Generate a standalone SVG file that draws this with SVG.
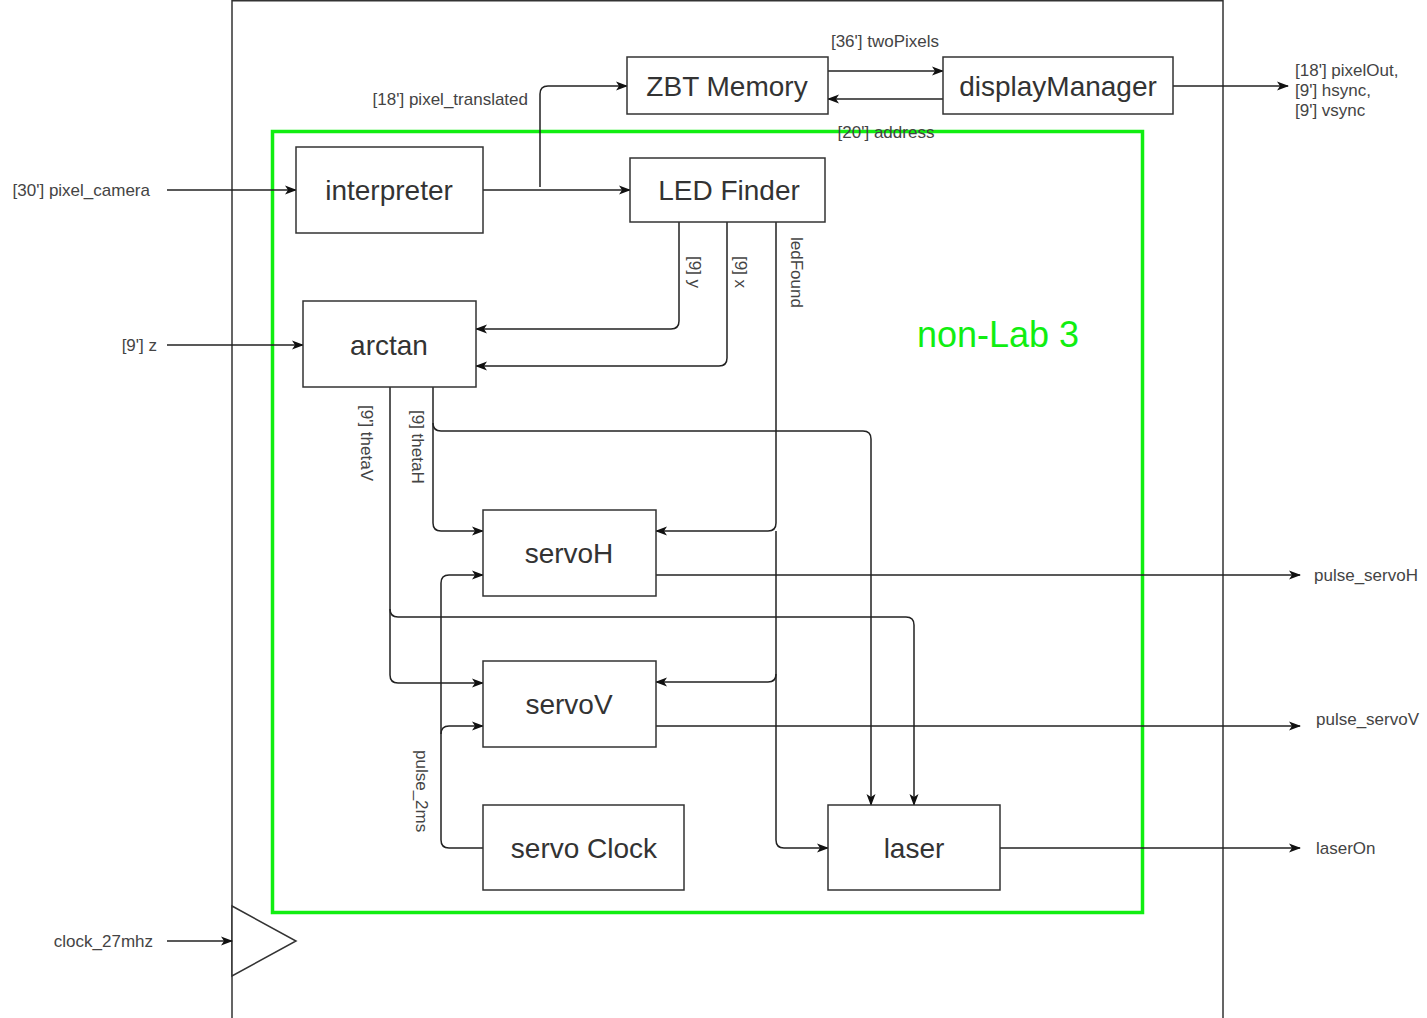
<svg xmlns="http://www.w3.org/2000/svg" width="1427" height="1018" viewBox="0 0 1427 1018">
<defs>
<marker id="arr" markerWidth="12" markerHeight="12" refX="11" refY="6" orient="auto" markerUnits="userSpaceOnUse">
<path d="M0,1.5 L12,6 L0,10.5 L3,6 z" fill="#111"/>
</marker>
<style>
.node{fill:#fff;stroke:#333;stroke-width:1.5}
.nt{font-family:"Liberation Sans",Arial,sans-serif;font-size:28px;fill:#333;text-anchor:middle;dominant-baseline:central}
.lb{font-family:"Liberation Sans",Arial,sans-serif;font-size:17px;fill:#444}
.c{fill:none;stroke:#222;stroke-width:1.5}
.ca{fill:none;stroke:#222;stroke-width:1.5;marker-end:url(#arr)}
</style>
</defs>
<rect width="1427" height="1018" fill="#fff"/>
<g id="outer">
<rect x="232" y="0.75" width="991" height="1030" fill="none" stroke="#333" stroke-width="1.5"/>
<polygon points="232,906 296,941 232,976" fill="#fff" stroke="#333" stroke-width="1.5"/>
</g>
<g id="nonlab3">
<rect x="272.5" y="131.5" width="870" height="781" fill="none" stroke="#11ee11" stroke-width="3.5"/>
<text x="998" y="334" font-family="Liberation Sans,Arial,sans-serif" font-size="36" fill="#11ee11" text-anchor="middle" dominant-baseline="central">non-Lab 3</text>
</g>
<g id="connectors">
<path class="ca" d="M167,190 H296"/>
<path class="ca" d="M167,345 H303"/>
<path class="ca" d="M167,941 H232"/>
<path class="ca" d="M483,190 H630"/>
<path class="ca" d="M540,187 V94 Q540,86 548,86 H627"/>
<path class="ca" d="M828,71 H943"/>
<path class="ca" d="M943,99 H828"/>
<path class="ca" d="M1173,86 H1288"/>
<path class="ca" d="M679,222 V321 Q679,329 671,329 H476"/>
<path class="ca" d="M727,222 V358 Q727,366 719,366 H476"/>
<path class="ca" d="M776,222 V523 Q776,531 768,531 H656"/>
<path class="ca" d="M776,674 Q776,682 768,682 H656"/>
<path class="ca" d="M776,531 V840 Q776,848 784,848 H828"/>
<path class="ca" d="M433,387 V523 Q433,531 441,531 H483"/>
<path class="ca" d="M433,423 Q433,431 441,431 H863 Q871,431 871,439 V805"/>
<path class="ca" d="M390,387 V675 Q390,683 398,683 H483"/>
<path class="ca" d="M390,609 Q390,617 398,617 H906 Q914,617 914,625 V805"/>
<path class="ca" d="M483,848 H449 Q441,848 441,840 V583 Q441,575 449,575 H483"/>
<path class="ca" d="M441,734 Q441,726 449,726 H483"/>
<path class="ca" d="M656,575 H1300"/>
<path class="ca" d="M656,726 H1300"/>
<path class="ca" d="M1000,848 H1300"/>
</g>
<g id="labels">
<text class="lb" x="150" y="196" text-anchor="end">[30'] pixel_camera</text>
<text class="lb" x="157" y="351" text-anchor="end">[9'] z</text>
<text class="lb" x="153" y="947" text-anchor="end">clock_27mhz</text>
<text class="lb" x="528" y="105" text-anchor="end">[18'] pixel_translated</text>
<text class="lb" x="885" y="47" text-anchor="middle">[36'] twoPixels</text>
<text class="lb" x="886" y="138" text-anchor="middle">[20'] address</text>
<text class="lb" x="1295" y="76">[18'] pixelOut,</text>
<text class="lb" x="1295" y="96">[9'] hsync,</text>
<text class="lb" x="1295" y="116">[9'] vsync</text>
<text class="lb" x="1314" y="581">pulse_servoH</text>
<text class="lb" x="1316" y="725">pulse_servoV</text>
<text class="lb" x="1316" y="854">laserOn</text>
<text class="lb" transform="translate(689,256) rotate(90)">[9] y</text>
<text class="lb" transform="translate(735,256) rotate(90)">[9] x</text>
<text class="lb" transform="translate(791,237) rotate(90)">ledFound</text>
<text class="lb" transform="translate(361,405) rotate(90)">[9'] thetaV</text>
<text class="lb" transform="translate(412,410) rotate(90)">[9] thetaH</text>
<text class="lb" transform="translate(416,750) rotate(90)">pulse_2ms</text>
</g>
<g id="zbt"><rect class="node" x="627" y="57" width="201" height="57"/><text class="nt" x="727" y="86">ZBT Memory</text></g>
<g id="display"><rect class="node" x="943" y="57" width="230" height="57"/><text class="nt" x="1058" y="86">displayManager</text></g>
<g id="interpreter"><rect class="node" x="296" y="147" width="187" height="86"/><text class="nt" x="389" y="190">interpreter</text></g>
<g id="ledfinder"><rect class="node" x="630" y="158" width="195" height="64"/><text class="nt" x="729" y="190">LED Finder</text></g>
<g id="arctan"><rect class="node" x="303" y="301" width="173" height="86"/><text class="nt" x="389" y="345">arctan</text></g>
<g id="servoH"><rect class="node" x="483" y="510" width="173" height="86"/><text class="nt" x="569" y="553">servoH</text></g>
<g id="servoV"><rect class="node" x="483" y="661" width="173" height="86"/><text class="nt" x="569" y="704">servoV</text></g>
<g id="servoclock"><rect class="node" x="483" y="805" width="201" height="85"/><text class="nt" x="584" y="848">servo Clock</text></g>
<g id="laser"><rect class="node" x="828" y="805" width="172" height="85"/><text class="nt" x="914" y="848">laser</text></g>
</svg>
